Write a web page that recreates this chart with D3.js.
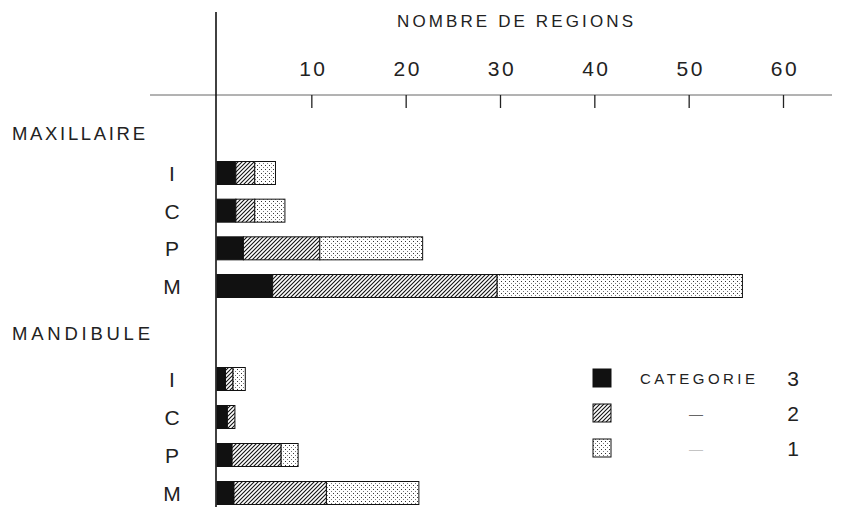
<!DOCTYPE html>
<html>
<head>
<meta charset="utf-8">
<script src="https://cdn.jsdelivr.net/npm/d3@7"></script>
<style>
  html, body { margin: 0; padding: 0; background: #fff; }
  svg { display: block; }
  text { font-family: "Liberation Sans", Arial, sans-serif; fill: #222; }
</style>
</head>
<body>
<svg id="chart" width="854" height="530"></svg>
<script>
// Number of regions per tooth type, split by category (3 = darkest, 1 = lightest)
const groups = ["MAXILLAIRE", "MANDIBULE"];
const teeth = ["I", "C", "P", "M"];
const categories = ["3", "2", "1"];

const maxillaireCat3 = [2, 2, 2.8, 5.9];
const maxillaireCat2 = [2, 2, 8.1, 23.8];
const maxillaireCat1 = [2.2, 3.2, 10.9, 26.0];

const mandibuleCat3 = [0.9, 1.1, 1.6, 1.8];
const mandibuleCat2 = [0.8, 0.8, 5.2, 9.8];
const mandibuleCat1 = [1.3, 0, 1.8, 9.8];

const xTicks = [10, 20, 30, 40, 50, 60];
const axisTitle = "NOMBRE DE REGIONS";
const legendTitle = "CATEGORIE";

const svg = d3.select("#chart");

// Fill patterns: solid black, diagonal hatching, fine stipple
const defs = svg.append("defs");
const hatch = defs.append("pattern")
  .attr("id", "hatch").attr("patternUnits", "userSpaceOnUse")
  .attr("width", 4).attr("height", 4);
hatch.append("rect").attr("width", 4).attr("height", 4).attr("fill", "#fff");
hatch.append("path")
  .attr("d", "M-1,1 l2,-2 M0,4 l4,-4 M3,5 l2,-2")
  .attr("stroke", "#111").attr("stroke-width", 1.1);

const dots = defs.append("pattern")
  .attr("id", "dots").attr("patternUnits", "userSpaceOnUse")
  .attr("width", 4).attr("height", 4);
dots.append("rect").attr("width", 4).attr("height", 4).attr("fill", "#fff");
dots.append("rect").attr("x", 1).attr("y", 1).attr("width", 1).attr("height", 1).attr("fill", "#333");
dots.append("rect").attr("x", 3).attr("y", 3).attr("width", 1).attr("height", 1).attr("fill", "#777");

const fills = { "3": "#111", "2": "url(#hatch)", "1": "url(#dots)" };

// Scales
const x = d3.scaleLinear().domain([0, 60]).range([217, 783]);
const yMax = d3.scalePoint().domain(teeth).range([173, 286]);
const yMand = d3.scalePoint().domain(teeth).range([379, 493]);
const barH = 23;

// Stack each group's category values
function stacked(c3, c2, c1) {
  const rows = teeth.map((t, i) => ({ tooth: t, "3": c3[i], "2": c2[i], "1": c1[i] }));
  return d3.stack().keys(categories)(rows);
}
const groupData = [
  { name: groups[0], y: yMax, series: stacked(maxillaireCat3, maxillaireCat2, maxillaireCat1), headerY: 140, width: 133 },
  { name: groups[1], y: yMand, series: stacked(mandibuleCat3, mandibuleCat2, mandibuleCat1), headerY: 340, width: 138 }
];

// Top axis
const axisY = 95;
svg.append("line")
  .attr("x1", 150).attr("x2", 832).attr("y1", axisY).attr("y2", axisY)
  .attr("stroke", "#666").attr("stroke-width", 1);
const xAxis = d3.axisBottom(x).tickValues(xTicks).tickSize(13).tickFormat("");
const gx = svg.append("g").attr("transform", `translate(0,${axisY})`).call(xAxis);
gx.select(".domain").remove();
gx.selectAll(".tick line").attr("stroke", "#222").attr("stroke-width", 1.3);

svg.append("g").selectAll("text").data(xTicks).join("text")
  .attr("x", d => x(d) + 2).attr("y", axisY - 19)
  .attr("text-anchor", "middle")
  .attr("font-size", 21).attr("letter-spacing", 2.5)
  .text(d => d);

svg.append("text")
  .attr("x", 397).attr("y", 27)
  .attr("font-size", 17)
  .attr("textLength", 236).attr("lengthAdjust", "spacing")
  .text(axisTitle);

// Vertical baseline
svg.append("line")
  .attr("x1", x(0) - 1).attr("x2", x(0) - 1).attr("y1", 12).attr("y2", 507)
  .attr("stroke", "#111").attr("stroke-width", 1.6);

// Groups: header, tooth labels, stacked bars
groupData.forEach(g => {
  svg.append("text")
    .attr("x", 12).attr("y", g.headerY)
    .attr("font-size", 18.5)
    .attr("textLength", g.width).attr("lengthAdjust", "spacing")
    .text(g.name);

  svg.append("g").selectAll("text").data(teeth).join("text")
    .attr("x", 172).attr("y", d => g.y(d) + 8)
    .attr("text-anchor", "middle")
    .attr("font-size", 21)
    .text(d => d);

  const layer = svg.append("g").selectAll("g").data(g.series).join("g")
    .attr("fill", s => fills[s.key]);
  layer.selectAll("rect")
    .data(s => s.filter(d => d[1] - d[0] > 0))
    .join("rect")
    .attr("x", d => x(d[0]))
    .attr("y", d => g.y(d.data.tooth) - barH / 2)
    .attr("width", d => x(d[1]) - x(d[0]))
    .attr("height", barH)
    .attr("stroke", "#111").attr("stroke-width", 1);
});

// Legend
const legendRows = [
  { key: "3", label: legendTitle, y: 378 },
  { key: "2", label: "\u2014", y: 413 },
  { key: "1", label: "\u2014", y: 448 }
];
const lg = svg.append("g");
lg.selectAll("rect").data(legendRows).join("rect")
  .attr("x", 593).attr("y", d => d.y - 9)
  .attr("width", 18).attr("height", 18)
  .attr("fill", d => fills[d.key])
  .attr("stroke", "#111").attr("stroke-width", 1);
lg.selectAll("text.lab").data(legendRows).join("text")
  .attr("class", "lab")
  .attr("x", d => d.key === "3" ? 640 : 696)
  .attr("y", d => d.y + 6)
  .attr("text-anchor", d => d.key === "3" ? "start" : "middle")
  .attr("font-size", d => d.key === "3" ? 15 : 14)
  .attr("textLength", d => d.key === "3" ? 115 : null)
  .attr("lengthAdjust", "spacing")
  .style("fill", d => d.key === "3" ? "#222" : (d.key === "2" ? "#666" : "#c4c4c4"))
  .text(d => d.label);
lg.selectAll("text.num").data(legendRows).join("text")
  .attr("class", "num")
  .attr("x", 793).attr("y", d => d.y + 8)
  .attr("text-anchor", "middle")
  .attr("font-size", 21)
  .text(d => d.key);
</script>
</body>
</html>
